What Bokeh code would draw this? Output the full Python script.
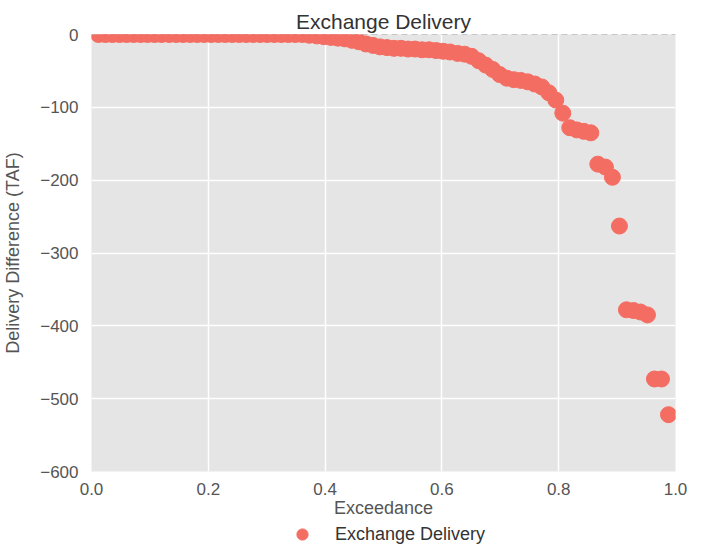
from bokeh.plotting import figure
from bokeh.layouts import column
from bokeh.models import ColumnDataSource, Range1d, Legend, LegendItem, FixedTicker, PrintfTickFormatter
from bokeh.embed import file_html
from bokeh.resources import INLINE

title_text = "Exchange Delivery"
x_label = "Exceedance"
y_label = "Delivery Difference (TAF)"
series_name = "Exchange Delivery"

x_ticks = [0.0, 0.2, 0.4, 0.6, 0.8, 1.0]
y_ticks = [-600, -500, -400, -300, -200, -100, 0]

exceedance = [
    0.012, 0.024, 0.036, 0.048, 0.060, 0.072, 0.084, 0.096, 0.108, 0.120,
    0.133, 0.145, 0.157, 0.169, 0.181, 0.193, 0.205, 0.217, 0.229, 0.241,
    0.253, 0.265, 0.277, 0.289, 0.301, 0.313, 0.325, 0.337, 0.349, 0.361,
    0.373, 0.386, 0.398, 0.410, 0.422, 0.434, 0.446, 0.458, 0.470, 0.482,
    0.494, 0.506, 0.518, 0.530, 0.542, 0.554, 0.566, 0.578, 0.590, 0.602,
    0.614, 0.627, 0.639, 0.651, 0.663, 0.675, 0.687, 0.699, 0.711, 0.723,
    0.735, 0.747, 0.759, 0.771, 0.783, 0.795, 0.807, 0.819, 0.831, 0.843,
    0.855, 0.867, 0.880, 0.892, 0.904, 0.916, 0.928, 0.940, 0.952, 0.964,
    0.976, 0.988,
]
delivery_diff = [
    0, 0, 0, 0, 0, 0, 0, 0, 0, 0,
    0, 0, 0, 0, 0, 0, 0, 0, 0, 0,
    0, 0, 0, 0, 0, 0, 0, 0, 0, 0,
    -1, -2, -3, -4, -5, -6, -8, -10, -13, -15,
    -17, -18, -19, -19, -20, -20, -21, -21, -22, -23,
    -24, -26, -27, -30, -36, -42, -48, -55, -60, -62,
    -63, -65, -68, -72, -80, -90, -108, -128, -131, -133,
    -135, -178, -182, -196, -263, -378, -379, -381, -385, -473,
    -473, -522,
]

FONT = "Liberation Sans"
PT_COLOR = "#F46D62"

src = ColumnDataSource(data=dict(x=exceedance, y=delivery_diff))

fig = figure(width=700, height=520, output_backend="svg", toolbar_location=None,
             x_range=Range1d(0, 1), y_range=Range1d(-600, 0), title=title_text)

fig.background_fill_color = "#E5E5E5"
fig.border_fill_color = "white"
fig.outline_line_color = None
fig.min_border_left = 89
fig.min_border_right = 25
fig.min_border_top = 34
fig.min_border_bottom = 47

fig.title.align = "center"
fig.title.text_font = FONT
fig.title.text_font_size = "21px"
fig.title.text_font_style = "normal"
fig.title.text_color = "#333333"
fig.title.standoff = 3
fig.title.offset = 0

for g in (fig.xgrid, fig.ygrid):
    g.grid_line_color = "white"
    g.grid_line_width = 1.5
fig.xgrid.ticker = FixedTicker(ticks=x_ticks)
fig.ygrid.ticker = FixedTicker(ticks=y_ticks)

fig.xaxis.ticker = FixedTicker(ticks=x_ticks)
fig.xaxis.formatter = PrintfTickFormatter(format="%.1f")
fig.yaxis.ticker = FixedTicker(ticks=y_ticks)
fig.xaxis.axis_label = x_label
fig.yaxis.axis_label = y_label

for ax in (fig.xaxis, fig.yaxis):
    ax.axis_line_color = None
    ax.major_tick_line_color = None
    ax.minor_tick_line_color = None
    ax.major_label_text_font = FONT
    ax.major_label_text_font_size = "17px"
    ax.major_label_text_color = "#555555"
    ax.axis_label_text_font = FONT
    ax.axis_label_text_font_size = "18px"
    ax.axis_label_text_font_style = "normal"
    ax.axis_label_text_color = "#555555"
fig.xaxis.major_label_standoff = 5
fig.xaxis.axis_label_standoff = 0
fig.yaxis.major_label_standoff = 7
fig.yaxis.axis_label_standoff = 14

# zero reference line
fig.line(x=[0, 1], y=[0, 0], line_color="#999999", line_dash="6 4", line_width=1.2)

r = fig.scatter("x", "y", source=src, size=16, marker="circle",
                fill_color=PT_COLOR, line_color=PT_COLOR, line_width=1)

# legend strip below the chart (frame aligned with the chart's frame by the column)
leg = figure(width=700, height=28, output_backend="svg", toolbar_location=None,
             x_range=Range1d(0, 1), y_range=Range1d(0, 1),
             x_axis_type=None, y_axis_type=None)
leg.outline_line_color = None
leg.background_fill_color = "white"
leg.border_fill_color = "white"
leg.min_border = 0
for g in leg.grid:
    g.visible = False
# swatch renderer: one point outside the visible range, only used for the legend glyph
leg_r = leg.scatter(x=[-5], y=[-5], size=16, marker="circle",
                    fill_color=PT_COLOR, line_color=PT_COLOR, line_width=1)

legend = Legend(items=[LegendItem(label=series_name, renderers=[leg_r])],
                location=(197, 0), orientation="horizontal",
                border_line_color=None, background_fill_alpha=0,
                label_text_font=FONT, label_text_font_size="18px",
                label_text_color="#333333",
                glyph_width=28, glyph_height=28, margin=0, padding=0,
                label_standoff=19)
leg.add_layout(legend, "center")

p = column(fig, leg, spacing=0)

open("out.html", "w").write(file_html(p, INLINE))
